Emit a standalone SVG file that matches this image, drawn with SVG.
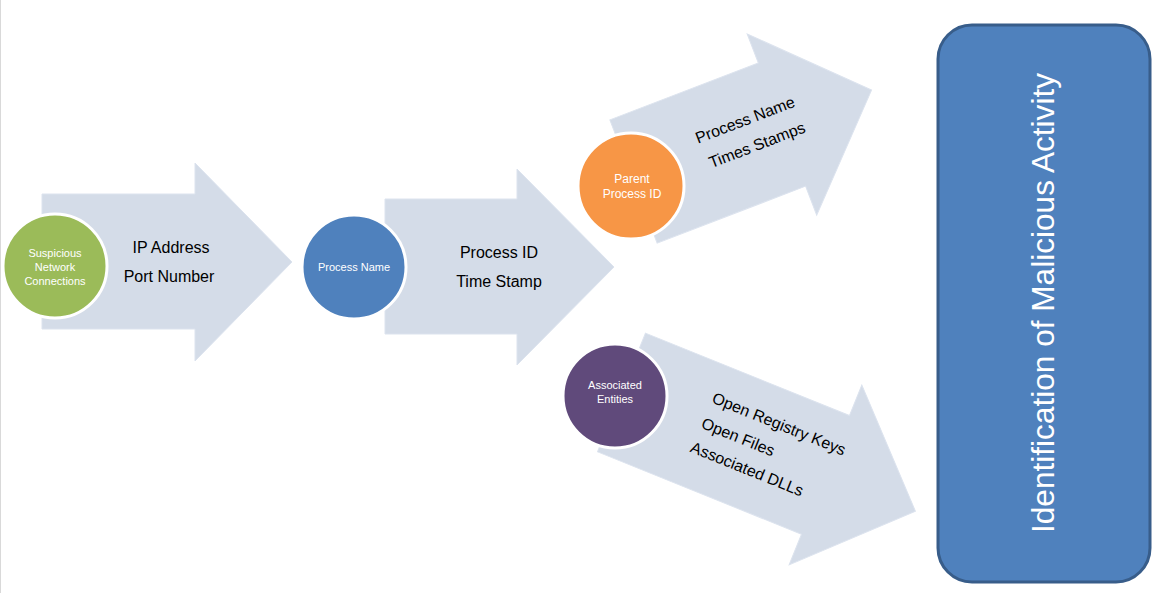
<svg xmlns="http://www.w3.org/2000/svg" width="1174" height="593" viewBox="0 0 1174 593">
<style>
.arrow{fill:#D4DCE8;stroke:#DCE3EE;stroke-width:1}
.circ{stroke:#FFFFFF;stroke-width:3}
.ct{font-family:"Liberation Sans",Arial,sans-serif;font-size:11px;fill:#FFFFFF;text-anchor:middle}
.at{font-family:"Liberation Sans",Arial,sans-serif;font-size:16px;fill:#000000;text-anchor:middle}
</style>
<rect x="0" y="0" width="1174" height="593" fill="#FFFFFF"/>
<line x1="0.5" y1="0" x2="0.5" y2="593" stroke="#D9D9D9" stroke-width="1"/>
<g id="connectors">
  <polygon class="arrow" points="42,194 195,194 195,163 292,262 195,361 195,329 42,329"/>
  <polygon class="arrow" points="385,199 517,199 517,169 614,267 517,365 517,334 385,334"/>
  <polygon class="arrow" transform="translate(633.5,181.5) rotate(-21)" points="0,-66 159,-66 159,-97 255,0 159,97 159,66 0,66"/>
  <polygon class="arrow" transform="translate(621.5,392.5) rotate(22)" points="0,-64 220,-64 220,-97 317,0 220,97 220,64 0,64"/>
  <text class="at" x="171" y="253">IP Address</text>
  <text class="at" x="169" y="282">Port Number</text>
  <text class="at" x="499" y="258">Process ID</text>
  <text class="at" x="499" y="287">Time Stamp</text>
  <text class="at" transform="translate(747,125) rotate(-21)">Process Name</text>
  <text class="at" transform="translate(759,150) rotate(-21)">Times Stamps</text>
  <text class="at" transform="translate(777,429) rotate(22)">Open Registry Keys</text>
  <text class="at" transform="translate(736,442) rotate(22)">Open Files</text>
  <text class="at" transform="translate(745,474) rotate(22)">Associated DLLs</text>
</g>
<g id="node-suspicious">
  <circle class="circ" cx="55" cy="266" r="52" fill="#9BBB59"/>
  <text class="ct" x="55" y="257">Suspicious</text>
  <text class="ct" x="55" y="271">Network</text>
  <text class="ct" x="55" y="285">Connections</text>
</g>
<g id="node-process-name">
  <circle class="circ" cx="354" cy="267" r="52" fill="#4F81BD"/>
  <text class="ct" x="354" y="271">Process Name</text>
</g>
<g id="node-parent">
  <circle class="circ" cx="631" cy="186" r="53" fill="#F79646"/>
  <text class="ct" x="632" y="183" style="font-size:12px">Parent</text>
  <text class="ct" x="632" y="198" style="font-size:12px">Process ID</text>
</g>
<g id="node-associated">
  <circle class="circ" cx="615" cy="396" r="52" fill="#604A7B"/>
  <text class="ct" x="615" y="389">Associated</text>
  <text class="ct" x="615" y="403">Entities</text>
</g>
<g id="node-identification">
  <rect x="938" y="25" width="212" height="557" rx="34" ry="34" fill="#4F81BD" stroke="#385D8A" stroke-width="3"/>
  <text transform="translate(1054,303) rotate(-90)" text-anchor="middle" font-family="Liberation Sans, Arial, sans-serif" font-size="31" fill="#FFFFFF" textLength="460" lengthAdjust="spacingAndGlyphs">Identification of Malicious Activity</text>
</g>
</svg>
